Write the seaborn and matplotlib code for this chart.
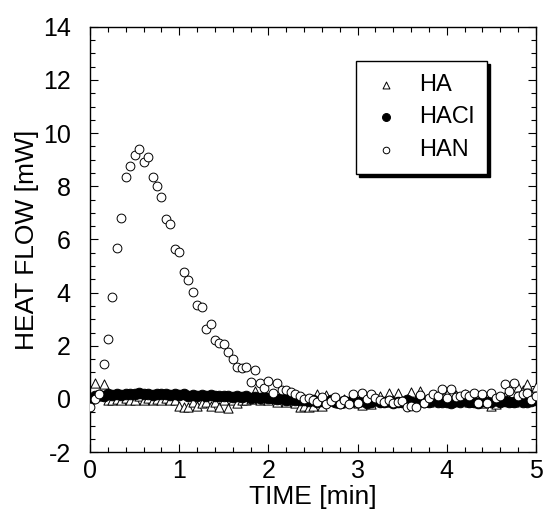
import numpy as np
import pandas as pd
import matplotlib
matplotlib.use("Agg")
import matplotlib.pyplot as plt
from matplotlib.ticker import MultipleLocator
import seaborn as sns

# sampling clock of the calorimeter [min]
time = np.round(np.arange(101) * 0.05, 2)

ha = [0.0, 0.6, 0.1, 0.55, -0.05, -0.05, 0.0, -0.05, 0.05, -0.05,
      -0.05, 0.1, -0.05, 0.05, -0.05, 0.0, -0.05, 0.05, -0.05, -0.05,
      -0.25, -0.3, -0.3, -0.1, -0.25, -0.15, -0.1, -0.25, -0.1, -0.3,
      -0.05, -0.32, -0.05, -0.15, -0.05, -0.05, 0.0, 0.3, -0.05, 0.0,
      -0.05, 0.05, -0.1, 0.0, -0.1, -0.05, -0.15, -0.3, -0.28, -0.3,
      -0.25, 0.2, -0.26, 0.15, -0.05, 0.05, -0.15, 0.0, -0.1, 0.05,
      -0.15, -0.22, 0.05, -0.2, -0.05, 0.1, -0.1, 0.21, -0.05, 0.21,
      -0.1, 0.0, 0.28, -0.05, 0.3, 0.0, -0.1, 0.05, -0.05, 0.1,
      0.2, -0.1, 0.15, 0.0, 0.2, -0.1, 0.05, 0.1, -0.15, 0.05,
      -0.26, -0.2, 0.0, 0.1, -0.05, -0.1, 0.45, 0.35, 0.55, 0.2,
      0.45]

hacl = [0.0, 0.1, 0.15, 0.12, 0.18, 0.15, 0.2, 0.15, 0.2, 0.18,
        0.2, 0.22, 0.18, 0.2, 0.15, 0.2, 0.17, 0.2, 0.15, 0.18,
        0.15, 0.17, 0.12, 0.15, 0.13, 0.15, 0.1, 0.14, 0.1, 0.12,
        0.1, 0.12, 0.08, 0.1, 0.06, 0.1, 0.05, 0.08, 0.04, 0.06,
        0.03, 0.05, 0.0, 0.03, -0.02, 0.0, -0.05, -0.02, -0.05, -0.08,
        -0.05, -0.1, -0.08, -0.12, -0.05, -0.1, -0.15, -0.08, -0.1, -0.05,
        -0.12, -0.08, -0.15, -0.1, -0.05, -0.1, -0.12, -0.08, -0.15, -0.1,
        -0.12, -0.05, -0.1, -0.15, -0.08, -0.12, -0.1, -0.05, -0.1, -0.12,
        -0.1, -0.15, -0.08, -0.1, -0.05, -0.12, -0.1, -0.15, -0.08, -0.1,
        -0.12, -0.05, -0.1, -0.08, -0.12, -0.1, -0.05, -0.12, -0.1, -0.08,
        -0.05]

han = [-0.3, 0.0, 0.19, 1.32, 2.26, 3.85, 5.69, 6.82, 8.36, 8.77,
       9.19, 9.39, 8.91, 9.11, 8.36, 8.03, 7.61, 6.77, 6.59, 5.64,
       5.53, 4.79, 4.49, 4.02, 3.53, 3.47, 2.63, 2.82, 2.21, 2.12,
       2.05, 1.78, 1.49, 1.19, 1.15, 1.19, 0.65, 1.09, 0.59, 0.4,
       0.68, 0.24, 0.59, 0.35, 0.34, 0.28, 0.19, 0.12, 0.01, 0.05,
       -0.04, -0.1, 0.09, -0.2, -0.06, 0.09, -0.2, -0.05, -0.2, 0.18,
       -0.16, 0.24, -0.01, 0.18, 0.05, -0.04, -0.1, -0.05, -0.16, -0.1,
       -0.06, -0.31, -0.25, -0.31, 0.15, -0.16, 0.05, 0.19, 0.1, 0.36,
       0.05, 0.36, 0.09, 0.1, 0.19, 0.1, 0.24, -0.16, 0.19, -0.16,
       0.24, 0.05, 0.11, 0.55, 0.3, 0.61, 0.11, 0.2, 0.24, -0.04,
       0.11]

sns.set_style("ticks")
plt.rcParams["font.family"] = ["Liberation Sans", "DejaVu Sans"]
plt.rcParams["axes.unicode_minus"] = False
for key in ["text.color", "axes.labelcolor", "xtick.color", "ytick.color",
            "axes.edgecolor"]:
    plt.rcParams[key] = "black"

fig = plt.figure(figsize=(5.43, 5.15), dpi=100)
ax = fig.add_axes([0.166, 0.122, 0.821, 0.826])

sns.scatterplot(x=time, y=ha, ax=ax, marker="^", s=44, facecolor="white",
                edgecolor="black", linewidth=0.7, label="HA", zorder=3)
sns.scatterplot(x=time, y=hacl, ax=ax, marker="o", s=58, color="black",
                edgecolor="black", linewidth=0.7, label="HACl", zorder=4)
sns.scatterplot(x=time, y=han, ax=ax, marker="o", s=40, facecolor="white",
                edgecolor="black", linewidth=0.7, label="HAN", zorder=5)

ax.set_xlim(0, 5)
ax.set_ylim(-2, 14)
ax.xaxis.set_major_locator(MultipleLocator(1))
ax.xaxis.set_minor_locator(MultipleLocator(0.2))
ax.yaxis.set_major_locator(MultipleLocator(2))
ax.yaxis.set_minor_locator(MultipleLocator(0.5))
ax.tick_params(which="both", direction="in", top=True, right=True,
               labelsize=18, width=0.8, color="black")
ax.tick_params(axis="y", which="major", length=6, pad=14)
ax.tick_params(axis="x", which="major", length=6, pad=5)
ax.tick_params(which="minor", length=3.5)
for sp in ax.spines.values():
    sp.set_linewidth(1.0)

ax.set_xlabel("TIME [min]", fontsize=19, labelpad=1)
ax.set_ylabel("HEAT FLOW [mW]", fontsize=19, labelpad=3)

leg = ax.legend(loc="upper right", bbox_to_anchor=(0.89, 0.92),
                borderaxespad=0, fontsize=17, frameon=True, fancybox=False,
                shadow={"color": "black", "alpha": 1},
                markerscale=0.75, handletextpad=0.7, labelspacing=0.45,
                borderpad=0.55, handlelength=1.4)
leg.get_frame().set_edgecolor("black")
leg.get_frame().set_linewidth(1.0)

plt.savefig("out.png", dpi=100)
